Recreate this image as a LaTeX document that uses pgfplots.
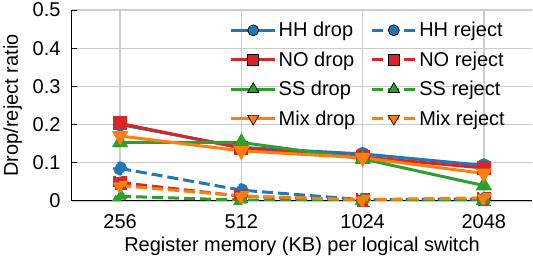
\documentclass[border=0pt]{standalone}
\usepackage{fontspec}
\setmainfont{Liberation Sans}
\usepackage{pgfplots}
\pgfplotsset{compat=1.18}
\definecolor{cB}{HTML}{1F77B4}
\definecolor{cR}{HTML}{D62728}
\definecolor{cG}{HTML}{2CA02C}
\definecolor{cO}{HTML}{FF7F0E}
\definecolor{gridc}{HTML}{CCCCCC}
\begin{document}
\begin{tikzpicture}
\begin{axis}[
  scale only axis,
  width=461bp, height=191bp,
  xmin=-0.4, xmax=3.4,
  ymin=0, ymax=0.5,
  xtick={0,1,2,3},
  xticklabels={256,512,1024,2048},
  ytick={0,0.1,0.2,0.3,0.4,0.5},
  yticklabels={0,0.1,0.2,0.3,0.4,0.5},
  axis x line*=bottom, axis y line*=left,
  axis line style={-, line width=1.2bp, black},
  tick align=inside,
  major tick length=5bp,
  tick style={line width=0.8bp, black},
  grid=major,
  major grid style={line width=1.3bp, gridc},
  font=\fontsize{20bp}{24bp}\selectfont,
  tick label style={font=\fontsize{20bp}{24bp}\selectfont},
  label style={font=\fontsize{20bp}{24bp}\selectfont},
  /pgf/number format/assume math mode=true,
  xticklabel style={anchor=base, yshift=-28bp, inner sep=0bp},
  yticklabel style={anchor=east, xshift=-11bp, inner sep=0bp},
  xlabel={Register memory (KB) per logical switch},
  ylabel={Drop/reject ratio},
  xlabel style={at={(axis description cs:0.5,0)}, anchor=base, yshift=-51bp, inner sep=0bp},
  ylabel style={at={(axis description cs:-0.128,0.5)}, anchor=center, inner sep=0bp},
  every axis plot/.append style={line width=3bp},
  mark options={solid, draw=black, line width=0.7bp},
  legend columns=2,
  legend style={draw=none, fill=none, at={(axis description cs:0.945,0.947)}, anchor=north east,
    inner sep=0bp,
    font=\fontsize{20bp}{24bp}\selectfont,
    /tikz/every even column/.append style={column sep=13bp},
    row sep=9.5bp},
  legend cell align=left,
  legend image code/.code={\draw[mark repeat=2,mark phase=2,#1] plot coordinates {(0bp,0bp) (22bp,0bp) (44bp,0bp)};},
  extra description/.code={
    \path (axis description cs:0,1) ++(-71.7bp,10bp);
    \path (axis description cs:0,0) ++(0,-59bp);
  },
]
% drops
\addplot[cB, mark=*, mark size=5.5bp, mark options={fill=cB}, forget plot] coordinates {(0,0.200) (1,0.140) (2,0.123) (3,0.093)};
\addplot[cR, mark=square*, mark size=5.5bp, mark options={fill=cR}, forget plot] coordinates {(0,0.203) (1,0.138) (2,0.115) (3,0.086)};
\addplot[cG, mark=triangle*, mark size=6.5bp, mark options={fill=cG}, forget plot] coordinates {(0,0.153) (1,0.153) (2,0.110) (3,0.040)};
\addplot[cO, mark=triangle*, mark size=6.5bp, mark options={fill=cO, rotate=180}, forget plot] coordinates {(0,0.170) (1,0.131) (2,0.113) (3,0.072)};
% rejects
\addplot[cB, dash pattern=on 11bp off 5bp, mark=*, mark size=5.5bp, mark options={fill=cB}, forget plot] coordinates {(0,0.085) (1,0.028) (2,0.003) (3,0.005)};
\addplot[cR, dash pattern=on 11bp off 5bp, mark=square*, mark size=5.5bp, mark options={fill=cR}, forget plot] coordinates {(0,0.048) (1,0.012) (2,0.002) (3,0.004)};
\addplot[cG, dash pattern=on 11bp off 5bp, mark=triangle*, mark size=6.5bp, mark options={fill=cG}, forget plot] coordinates {(0,0.012) (1,0.002) (2,0.001) (3,0.001)};
\addplot[cO, dash pattern=on 11bp off 5bp, mark=triangle*, mark size=6.5bp, mark options={fill=cO, rotate=180}, forget plot] coordinates {(0,0.040) (1,0.013) (2,0.003) (3,0.008)};
% legend
\addlegendimage{cB, line width=3bp, mark=*, mark size=5.5bp, mark options={solid, fill=cB, draw=black, line width=0.7bp}}
\addlegendentry{HH drop}
\addlegendimage{cB, line width=3bp, dash pattern=on 11bp off 5bp, mark=*, mark size=5.5bp, mark options={solid, fill=cB, draw=black, line width=0.7bp}}
\addlegendentry{HH reject}
\addlegendimage{cR, line width=3bp, mark=square*, mark size=5.5bp, mark options={solid, fill=cR, draw=black, line width=0.7bp}}
\addlegendentry{NO drop}
\addlegendimage{cR, line width=3bp, dash pattern=on 11bp off 5bp, mark=square*, mark size=5.5bp, mark options={solid, fill=cR, draw=black, line width=0.7bp}}
\addlegendentry{NO reject}
\addlegendimage{cG, line width=3bp, mark=triangle*, mark size=6.5bp, mark options={solid, fill=cG, draw=black, line width=0.7bp}}
\addlegendentry{SS drop}
\addlegendimage{cG, line width=3bp, dash pattern=on 11bp off 5bp, mark=triangle*, mark size=6.5bp, mark options={solid, fill=cG, draw=black, line width=0.7bp}}
\addlegendentry{SS reject}
\addlegendimage{cO, line width=3bp, mark=triangle*, mark size=6.5bp, mark options={solid, fill=cO, rotate=180, draw=black, line width=0.7bp}}
\addlegendentry{Mix drop}
\addlegendimage{cO, line width=3bp, dash pattern=on 11bp off 5bp, mark=triangle*, mark size=6.5bp, mark options={solid, fill=cO, rotate=180, draw=black, line width=0.7bp}}
\addlegendentry{Mix reject}
\end{axis}
\end{tikzpicture}
\end{document}
